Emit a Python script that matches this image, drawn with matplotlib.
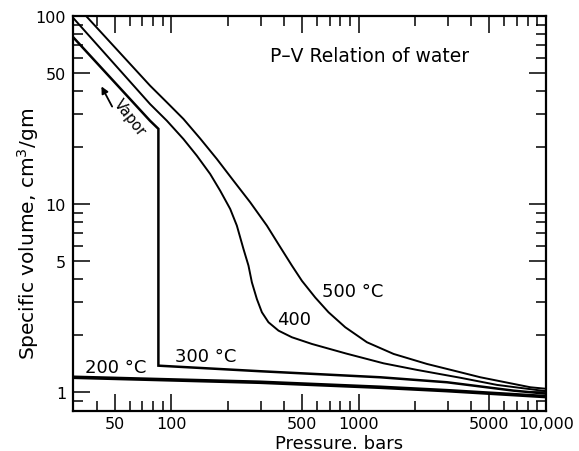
import matplotlib
matplotlib.use("Agg")
import matplotlib.pyplot as plt
from matplotlib.ticker import FixedLocator, NullFormatter, FixedFormatter

plt.rcParams['font.family'] = ['DejaVu Sans']

# ---- data ----
p500 = [35.0, 76.9, 94.5, 115.9, 142.4, 174.9, 214.6, 263.6, 323.7, 373.5, 440.4,
        498.2, 586.8, 691.1, 849, 1109, 1539, 2321, 3498, 4475, 8284, 10000]
v500 = [100, 42.6, 34.75, 28.34, 22.3, 17.35, 13.30, 10.21, 7.67, 6.1, 4.70,
        3.90, 3.18, 2.654, 2.209, 1.838, 1.593, 1.409, 1.273, 1.197, 1.059, 1.04]

p400 = [30.0, 76.9, 94.5, 115.9, 136.7, 161.1, 182.2, 206.1, 223.7, 242.7, 258.1,
        269.1, 286.2, 304.4, 330.1, 373.5, 440.4, 563.5, 860, 1361, 2053,
        3498, 5497, 10000]
v400 = [97.2, 34.0, 27.74, 22.16, 18.07, 14.44, 11.77, 9.41, 7.67, 5.76, 4.70,
        3.83, 3.12, 2.654, 2.348, 2.119, 1.954, 1.800, 1.60, 1.42, 1.31,
        1.19, 1.09, 1.01]

p300 = [29.9, 76.9, 85.2, 85.2, 298.1, 1306, 2970, 6743, 10000]
v300 = [77.0, 27.7, 25.1, 1.38, 1.289, 1.197, 1.126, 1.016, 0.98]

p200 = [29.8, 298.1, 1306, 2970, 10000]
v200 = [1.197, 1.126, 1.059, 1.016, 0.945]

xmajor = [50, 100, 500, 1000, 5000, 10000]
xmajor_labels = ["50", "100", "500", "1000", "5000", "10,000"]
xminor = [40, 60, 70, 80, 90, 200, 300, 400, 600, 700, 800, 900,
          2000, 3000, 4000, 6000, 7000, 8000, 9000]
ymajor = [1, 5, 10, 50, 100]
ymajor_labels = ["1", "5", "10", "50", "100"]
yminor = [0.9, 2, 3, 4, 6, 7, 8, 9, 20, 30, 40, 60, 70, 80, 90]

# ---- figure ----
fig = plt.figure(figsize=(5.79, 4.52), dpi=100)
ax = fig.add_axes([0.1261, 0.0892, 0.9425 - 0.1261, 0.9624 - 0.0892])
ax.set_xscale('log')
ax.set_yscale('log')
ax.set_xlim(29.8, 10000)
ax.set_ylim(0.795, 100)

ax.plot(p500, v500, color='black', lw=1.4, solid_joinstyle='round')
ax.plot(p400, v400, color='black', lw=1.4, solid_joinstyle='round')
ax.plot(p300, v300, color='black', lw=1.8, solid_joinstyle='miter')
ax.plot(p200, v200, color='black', lw=2.6)

for s in ax.spines.values():
    s.set_linewidth(1.6)

ax.xaxis.set_major_locator(FixedLocator(xmajor))
ax.xaxis.set_major_formatter(FixedFormatter(xmajor_labels))
ax.xaxis.set_minor_locator(FixedLocator(xminor))
ax.xaxis.set_minor_formatter(NullFormatter())
ax.yaxis.set_major_locator(FixedLocator(ymajor))
ax.yaxis.set_major_formatter(FixedFormatter(ymajor_labels))
ax.yaxis.set_minor_locator(FixedLocator(yminor))
ax.yaxis.set_minor_formatter(NullFormatter())

ax.tick_params(which='both', direction='in', top=True, right=True,
               labelsize=11.5, width=1.1)
ax.tick_params(axis='x', pad=3.5)
ax.tick_params(axis='y', pad=5)
ax.tick_params(which='major', length=12)
ax.tick_params(which='minor', length=7)

# labels
ax.text(0.563, -0.058, "Pressure. bars", transform=ax.transAxes,
        ha='center', va='top', fontsize=13)
ax.text(-0.095, 0.45, "Specific volume, cm$^3$/gm", transform=ax.transAxes,
        ha='center', va='center', rotation=90, fontsize=14.5)
ax.text(0.4167, 0.899, "P\u2013V Relation of water", transform=ax.transAxes,
        ha='left', va='center', fontsize=13.5)

ax.text(50.6, 1.358, "200 \u00b0C", ha='center', va='center', fontsize=13)
ax.text(153.3, 1.554, "300 \u00b0C", ha='center', va='center', fontsize=13)
ax.text(452.9, 2.445, "400", ha='center', va='center', fontsize=13)
ax.text(925.3, 3.445, "500 \u00b0C", ha='center', va='center', fontsize=13)

ax.annotate("", xy=(41.6, 43.5), xytext=(49.0, 32.0),
            arrowprops=dict(arrowstyle='-|>', color='black', lw=1.3,
                            mutation_scale=10))
ax.text(60.1, 28.9, "Vapor", ha='center', va='center', rotation=-52, fontsize=10.5)

fig.savefig("out.png", dpi=100)
